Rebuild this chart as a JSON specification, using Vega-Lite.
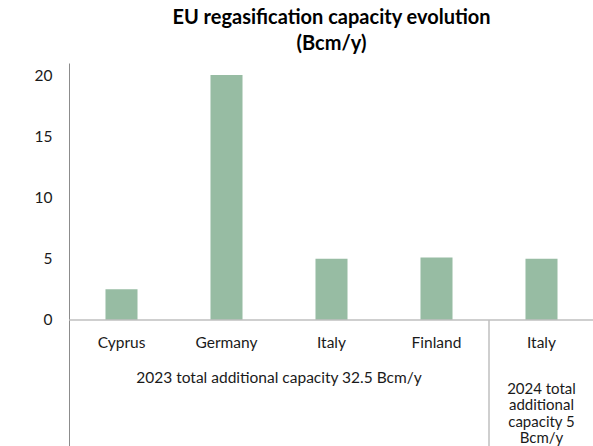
{
  "$schema": "https://vega.github.io/schema/vega-lite/v6.json",
  "autosize": {"type": "none"},
  "padding": {"left": 69, "top": 63, "right": 0, "bottom": 0},
  "width": 525,
  "height": 383,
  "config": {"view": {"stroke": null}, "font": "Lato"},
  "title": {
    "text": ["EU regasification capacity evolution", "(Bcm/y)"],
    "font": "Lato",
    "fontSize": 20,
    "fontWeight": "bold",
    "color": "#000000",
    "anchor": "middle",
    "lineHeight": 26,
    "offset": 9
  },
  "datasets": {
    "plants": [
      {"slot": "Cyprus|2023", "country": "Cyprus", "year": "2023", "capacity": 2.5},
      {"slot": "Germany|2023", "country": "Germany", "year": "2023", "capacity": 20},
      {"slot": "Italy|2023", "country": "Italy", "year": "2023", "capacity": 5},
      {"slot": "Finland|2023", "country": "Finland", "year": "2023", "capacity": 5.1},
      {"slot": "Italy|2024", "country": "Italy", "year": "2024", "capacity": 5}
    ],
    "groups": [
      {"year": "2023", "centre": "Germany|2023", "text": "2023 total additional capacity 32.5 Bcm/y"},
      {"year": "2024", "centre": "Italy|2024", "text": ["2024 total", "additional", "capacity 5", "Bcm/y"]}
    ],
    "dividers": [
      {"after": "Finland|2023"}
    ],
    "baseline": [
      {"level": 0}
    ]
  },
  "layer": [
    {
      "data": {"name": "plants"},
      "mark": {"type": "bar", "width": {"band": 0.305}, "color": "#97bca3"},
      "encoding": {
        "x": {
          "field": "slot",
          "type": "nominal",
          "scale": {
            "type": "band",
            "domain": ["Cyprus|2023", "Germany|2023", "Italy|2023", "Finland|2023", "Italy|2024"],
            "paddingInner": 0,
            "paddingOuter": 0
          },
          "axis": null
        },
        "y": {
          "field": "capacity",
          "type": "quantitative",
          "scale": {"domain": [-10.29, 20.98], "nice": false, "zero": false},
          "axis": {
            "title": null,
            "values": [0, 5, 10, 15, 20],
            "grid": false,
            "ticks": false,
            "tickSize": 0,
            "domainColor": "#8c8c8c",
            "domainWidth": 1,
            "labelPadding": 17,
            "labelFont": "Lato",
            "labelFontSize": 15.5,
            "labelColor": "#1a1a1a"
          }
        }
      }
    },
    {
      "data": {"name": "baseline"},
      "mark": {"type": "rule", "color": "#bfbfbf", "strokeWidth": 1.5},
      "encoding": {
        "y": {"field": "level", "type": "quantitative"}
      }
    },
    {
      "data": {"name": "dividers"},
      "mark": {"type": "rule", "color": "#bfbfbf", "strokeWidth": 1.5},
      "encoding": {
        "x": {"field": "after", "type": "nominal", "bandPosition": 1},
        "y": {"datum": 0},
        "y2": {"datum": -10.29}
      }
    },
    {
      "data": {"name": "plants"},
      "mark": {"type": "text", "baseline": "alphabetic", "align": "center", "dy": 28, "fontSize": 15.5, "color": "#1a1a1a"},
      "encoding": {
        "x": {"field": "slot", "type": "nominal"},
        "y": {"datum": 0},
        "text": {"field": "country"}
      }
    },
    {
      "data": {"name": "groups"},
      "transform": [{"filter": "datum.year === '2023'"}],
      "mark": {"type": "text", "baseline": "alphabetic", "align": "center", "dy": 63, "fontSize": 15.5, "color": "#1a1a1a"},
      "encoding": {
        "x": {"field": "centre", "type": "nominal", "bandPosition": 1},
        "y": {"datum": 0},
        "text": {"field": "text"}
      }
    },
    {
      "data": {"name": "groups"},
      "transform": [{"filter": "datum.year === '2024'"}],
      "mark": {"type": "text", "baseline": "alphabetic", "align": "center", "dy": 74, "lineHeight": 16.5, "fontSize": 15, "color": "#1a1a1a"},
      "encoding": {
        "x": {"field": "centre", "type": "nominal", "bandPosition": 0.5},
        "y": {"datum": 0},
        "text": {"field": "text"}
      }
    }
  ]
}
